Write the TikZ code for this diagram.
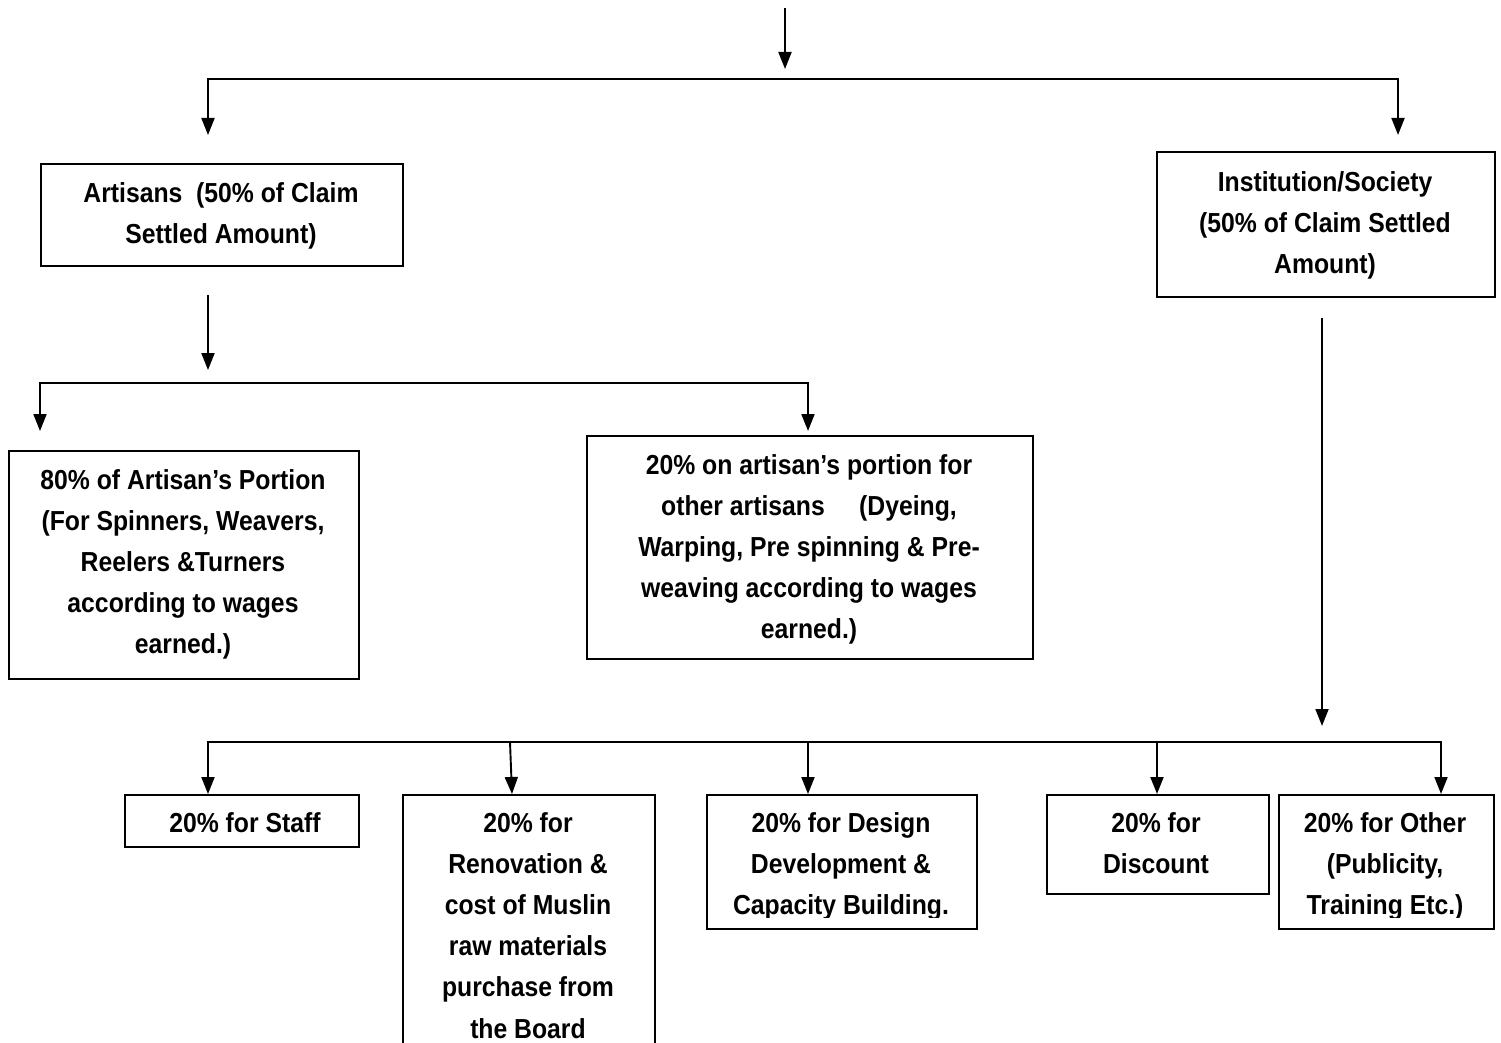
\documentclass[tikz,border=0pt]{standalone}
\usepackage{fontspec}
\setmainfont{Liberation Sans}[FakeStretch=0.9]
\usetikzlibrary{arrows.meta}
\begin{document}
\begin{tikzpicture}[x=1pt,y=-1pt,
  conn/.style={line width=1.9pt, draw=black, line join=miter},
  arr/.style={conn, -{Triangle[length=17pt,width=13pt]}},
  box/.style={draw=black, line width=1.9pt, inner sep=0pt, rectangle, anchor=north west},
  txt/.style={align=center, font=\bfseries\fontsize{27.5}{41.2}\selectfont, inner sep=0pt, anchor=north}]
\useasboundingbox[fill=white] (0,0) rectangle (1501,1043);

% boxes
\node[box, minimum width=362pt, minimum height=102pt] (art) at (40,163) {};
\node[box, minimum width=338pt, minimum height=145pt] (inst) at (1156,151) {};
\node[box, minimum width=350pt, minimum height=228pt] (eighty) at (8,450) {};
\node[box, minimum width=446pt, minimum height=223pt] (twenty) at (586,435) {};
\node[box, minimum width=234pt, minimum height=52pt] (stf) at (124,794) {};
\node[box, minimum width=252pt, minimum height=280pt] (ren) at (402,794) {};
\node[box, minimum width=270pt, minimum height=134pt] (des) at (706,794) {};
\node[box, minimum width=222pt, minimum height=99pt] (dis) at (1046,794) {};
\node[box, minimum width=215pt, minimum height=134pt] (oth) at (1278,794) {};

% texts
\node[txt] (artT) at (221,182) {Artisans\ \ (50\% of Claim\\Settled Amount)};
\node[txt] (instT) at (1325,171) {Institution/Society\\(50\% of Claim Settled\\Amount)};
\node[txt] (eightyT) at (183,469) {80\% of Artisan’s Portion\\(For Spinners, Weavers,\\Reelers \&Turners\\according to wages\\earned.)};
\node[txt] (twentyT) at (809,454) {20\% on artisan’s portion for\\other artisans\ \ \ \ \ (Dyeing,\\Warping, Pre spinning \& Pre-\\weaving according to wages\\earned.)};
\node[txt] (stfT) at (245,812) {20\% for Staff};
\node[txt] (renT) at (528,812) {20\% for\\Renovation \&\\cost of Muslin\\raw materials\\purchase from\\the Board};
\begin{scope}
\clip (706,794) rectangle (976,917);
\node[txt] (desT) at (841,812) {20\% for Design\\Development \&\\Capacity Building.};
\end{scope}
\node[txt] (disT) at (1156,812) {20\% for\\Discount};
\begin{scope}
\clip (1278,794) rectangle (1493,917);
\node[txt] (othT) at (1385,812) {20\% for Other\\(Publicity,\\Training Etc.)};
\end{scope}

% top level connectors
\coordinate (t0) at (785,8);
\coordinate (t1) at (785,69);
\draw[arr] (t0) -- (t1);
\coordinate (b1L) at (208,79);
\coordinate (b1R) at (1398,79);
\coordinate (a1) at (208,135);
\coordinate (a2) at (1398,135);
\draw[arr] (b1R) -- (b1L) -- (a1);
\draw[arr] (b1L) -- (b1R) -- (a2);

% artisans branch
\coordinate (s0) at (208,295);
\coordinate (s1) at (208,370);
\draw[arr] (s0) -- (s1);
\coordinate (b2L) at (40,383);
\coordinate (b2R) at (808,383);
\coordinate (c1) at (40,431);
\coordinate (c2) at (808,431);
\draw[arr] (b2R) -- (b2L) -- (c1);
\draw[arr] (b2L) -- (b2R) -- (c2);

% institution branch
\coordinate (i0) at (1322,318);
\coordinate (i1) at (1322,726);
\draw[arr] (i0) -- (i1);
\coordinate (b3L) at (208,742);
\coordinate (b3R) at (1441,742);
\coordinate (d2) at (510,742);
\coordinate (d3) at (808,742);
\coordinate (d4) at (1157,742);
\draw[arr] (b3R) -- (b3L) -- (b3L |- stf.north);
\draw[arr] (b3L) -- (b3R) -- (b3R |- oth.north);
\draw[arr] (d2) -- (512,0 |- ren.north);
\draw[arr] (d3) -- (d3 |- des.north);
\draw[arr] (d4) -- (d4 |- dis.north);
\end{tikzpicture}
\end{document}
